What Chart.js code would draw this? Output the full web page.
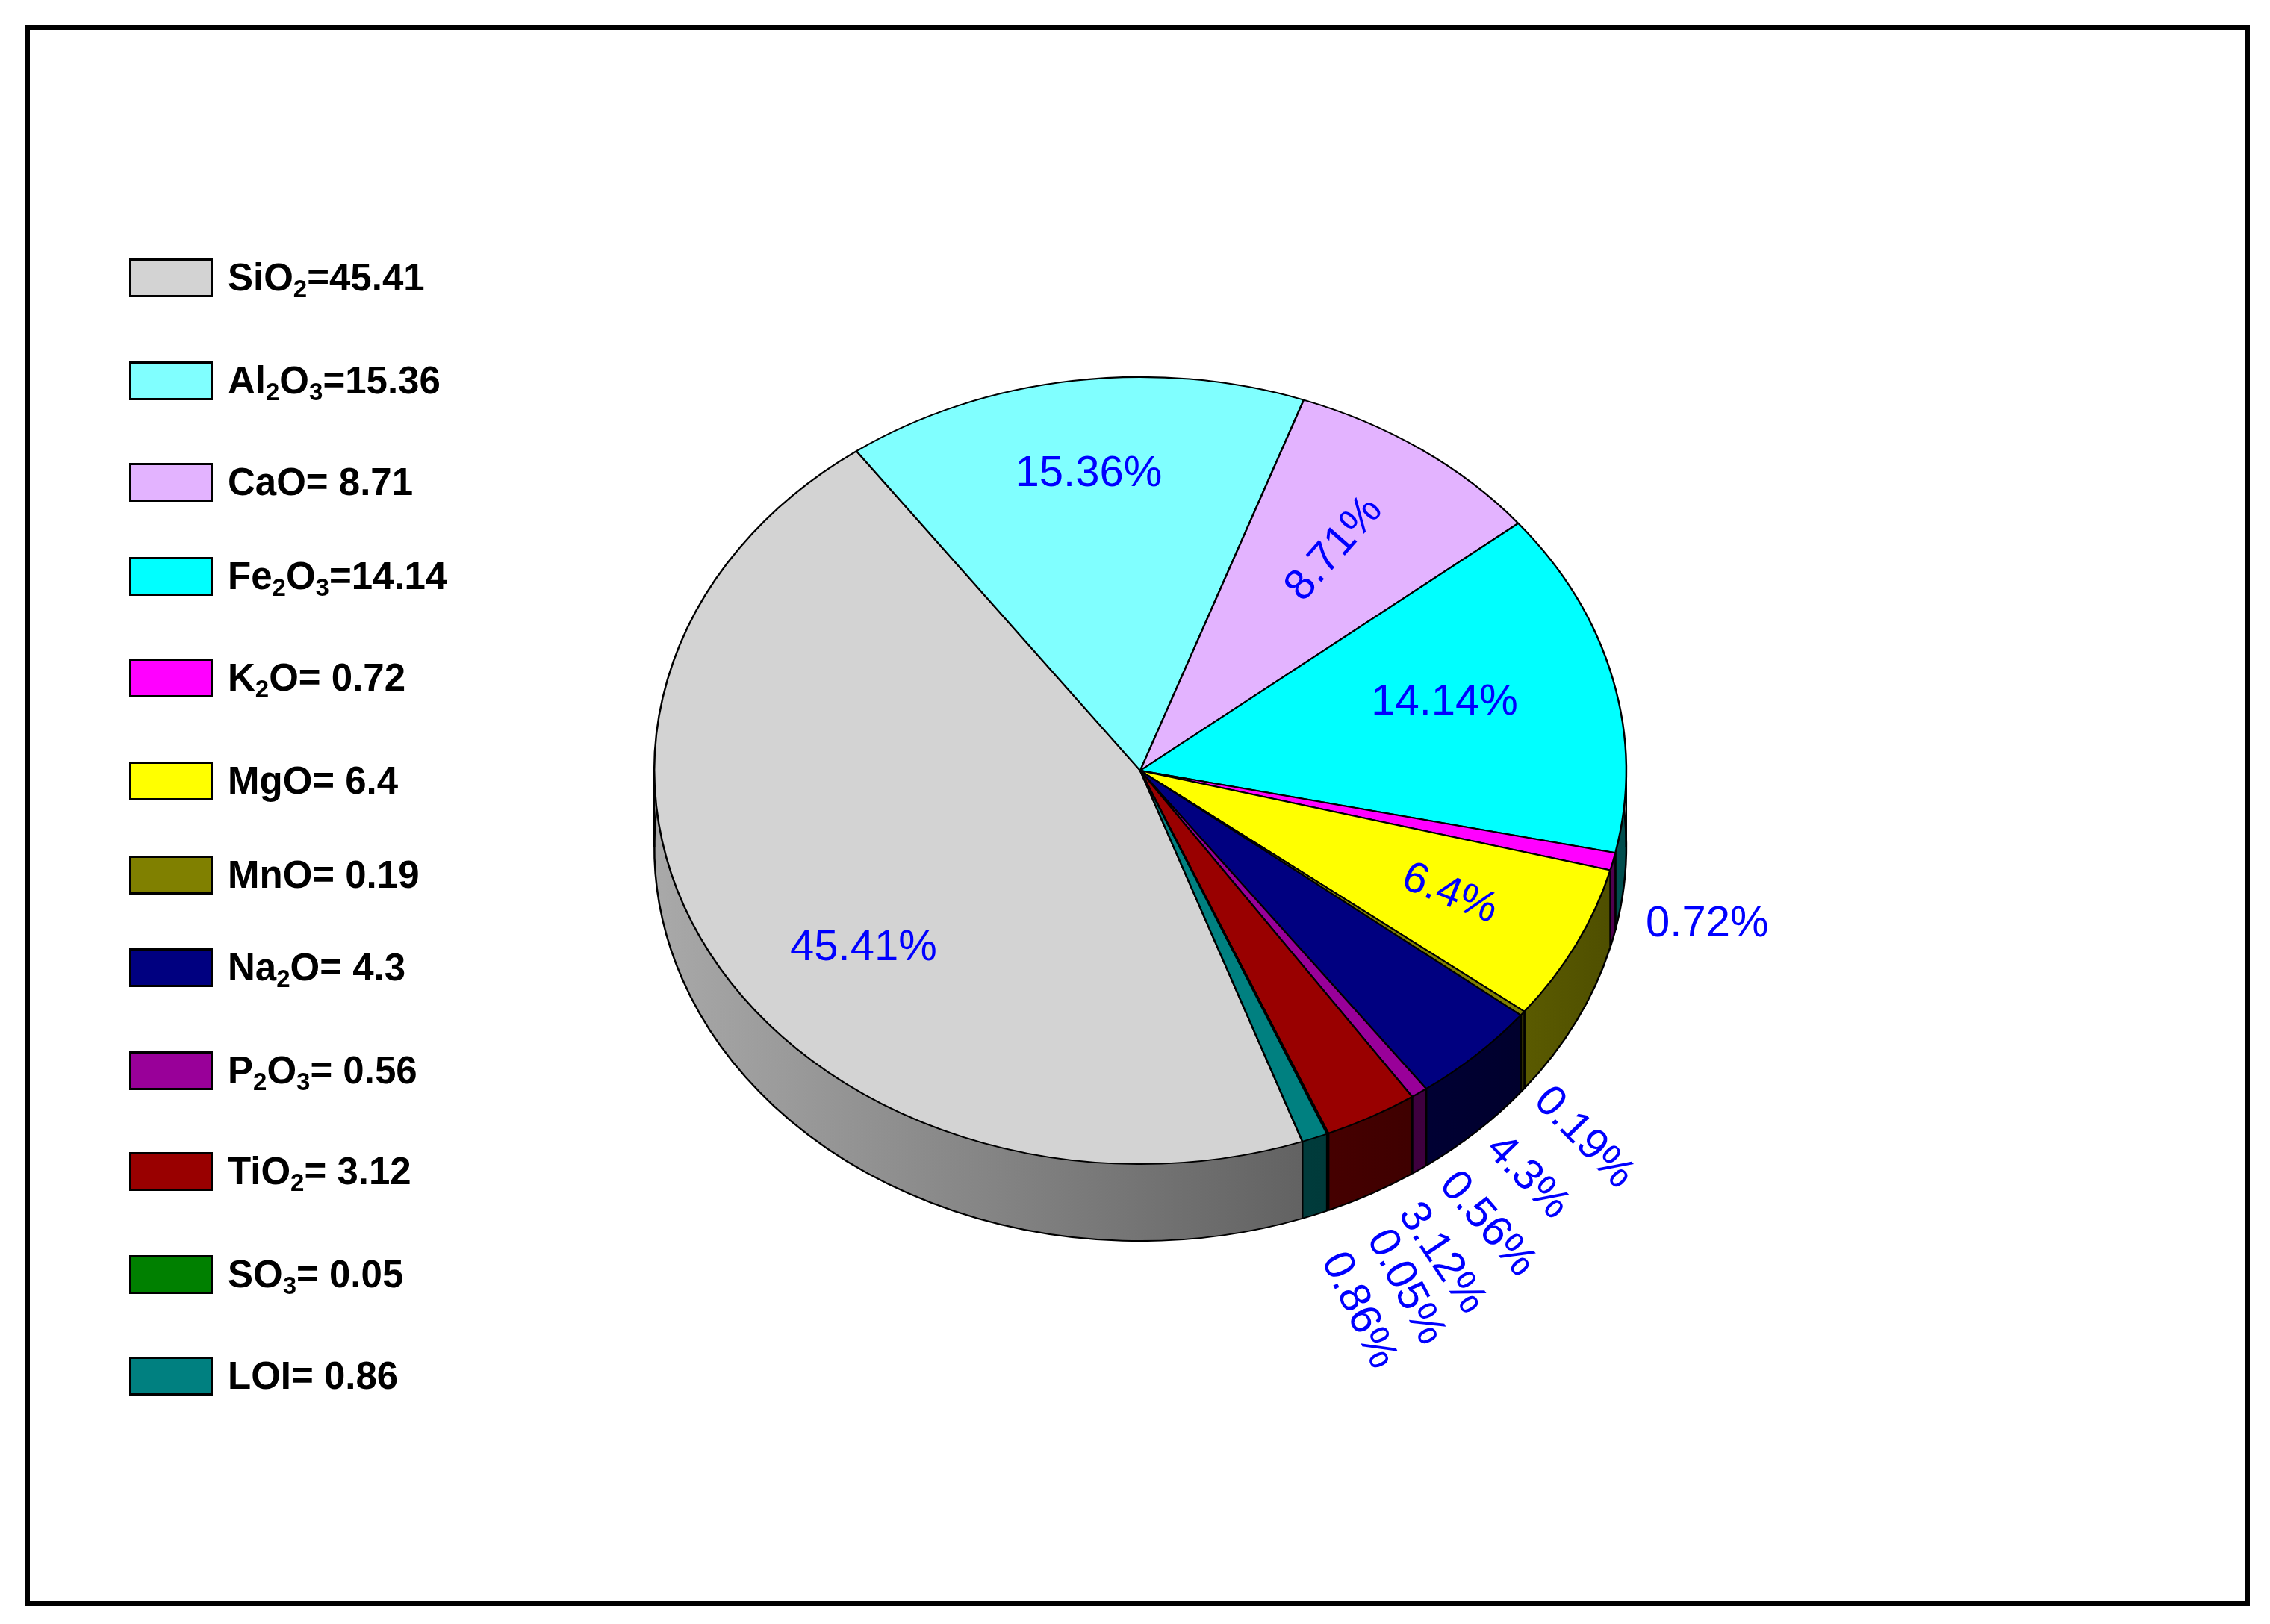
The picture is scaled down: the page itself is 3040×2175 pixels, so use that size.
<!DOCTYPE html>
<html>
<head>
<meta charset="utf-8">
<script src="https://cdn.jsdelivr.net/npm/chart.js@4"></script>
<style>
  body { margin: 0; background: #fff; font-family: "Liberation Sans", Arial, sans-serif; }
  #frame { position: absolute; left: 33px; top: 33px; width: 2966px; height: 2104px; border: 7px solid #000; }
  #wrap { position: absolute; left: 0; top: 0; width: 3040px; height: 2175px; }
  #legend { position: absolute; left: 173px; top: 0; }
  .item { position: absolute; left: 0; white-space: nowrap; font-weight: bold; font-size: 51px; }
  .box { position: absolute; left: 0; width: 112px; height: 52px; border: 3px solid #000; box-sizing: border-box; }
  .txt { position: absolute; left: 132px; top: -4px; line-height: 60px; }
  sub { font-size: 33px; vertical-align: -9px; line-height: 0; }
</style>
</head>
<body>
<div id="frame"></div>
<div id="wrap"><canvas id="pie" width="3040" height="2175"></canvas></div>
<div id="legend"></div>
<script>
// 成分数据
const names = ['SiO<sub>2</sub>', 'Al<sub>2</sub>O<sub>3</sub>', 'CaO', 'Fe<sub>2</sub>O<sub>3</sub>', 'K<sub>2</sub>O', 'MgO', 'MnO', 'Na<sub>2</sub>O', 'P<sub>2</sub>O<sub>3</sub>', 'TiO<sub>2</sub>', 'SO<sub>3</sub>', 'LOI'];
const legendText = ['=45.41', '=15.36', '= 8.71', '=14.14', '= 0.72', '= 6.4', '= 0.19', '= 4.3', '= 0.56', '= 3.12', '= 0.05', '= 0.86'];
const values = [45.41, 15.36, 8.71, 14.14, 0.72, 6.4, 0.19, 4.3, 0.56, 3.12, 0.05, 0.86];
const colors = ['#d3d3d3', '#80ffff', '#e3b3ff', '#00ffff', '#ff00ff', '#ffff00', '#808000', '#000080', '#990099', '#990000', '#008000', '#008080'];
const legendRows = [192, 263, 333, 398, 468, 539, 604, 668, 739, 809, 880, 950];

// 标签样式：半径比例、是否旋转、微调
const labelR = [0.72, 0.76, 0.69, 0.65, 1.23, 0.71, 1.3, 1.28, 1.27, 1.26, 1.26, 1.25];
const labelRot = [false, false, true, false, false, true, true, true, true, true, true, true];
const labelDx = [23, 0, 0, -2, -10, 0, -37, -30, -5, 7, 20, 0];
const labelDy = [32, 0, 0, -6, -19, 0, -12, -18, -17, -12, -7, 8];

const K = 0.81;      // 垂直压缩
const DEPTH = 103;   // 厚度
const S = 1.94;

// 图例
const legend = document.getElementById('legend');
legend.innerHTML = names.map((n, i) => `
  <div class="item" style="top:${legendRows[i] * S - 26}px">
    <div class="box" style="background:${colors[i]}"></div>
    <div class="txt">${n}${legendText[i]}</div>
  </div>`).join('');

function shade(hex, f) {
  const n = parseInt(hex.slice(1), 16);
  const r = Math.round(((n >> 16) & 255) * f), g = Math.round(((n >> 8) & 255) * f), b = Math.round((n & 255) * f);
  return `rgb(${r},${g},${b})`;
}

const tiltPlugin = {
  id: 'tilt',
  beforeDatasetsDraw(chart) {
    const ctx = chart.ctx;
    const arcs = chart.getDatasetMeta(0).data;
    const cx = arcs[0].x, cy = arcs[0].y, r = arcs[0].outerRadius;
    ctx.save();
    ctx.translate(cx, cy);
    ctx.scale(1, K);
    ctx.translate(-cx, -cy);
    const off = DEPTH / K;
    arcs.forEach((a, i) => {
      const grad = ctx.createLinearGradient(cx - r, 0, cx + r, 0);
      grad.addColorStop(0, shade(colors[i], 0.8));
      grad.addColorStop(1, shade(colors[i], 0.3));
      ctx.fillStyle = grad;
      ctx.beginPath();
      ctx.arc(cx, cy, r, a.startAngle, a.endAngle);
      ctx.arc(cx, cy + off, r, a.endAngle, a.startAngle, true);
      ctx.closePath();
      ctx.fill();
      ctx.lineWidth = 2.5;
      ctx.strokeStyle = '#000';
      ctx.beginPath();
      ctx.arc(cx, cy + off, r, a.startAngle, a.endAngle);
      ctx.stroke();
      [a.startAngle, a.endAngle].forEach(t => {
        if (Math.sin(t) > 0) {
          ctx.beginPath();
          ctx.moveTo(cx + r * Math.cos(t), cy + r * Math.sin(t));
          ctx.lineTo(cx + r * Math.cos(t), cy + off + r * Math.sin(t));
          ctx.stroke();
        }
      });
    });
    ctx.beginPath();
    ctx.moveTo(cx - r, cy); ctx.lineTo(cx - r, cy + off);
    ctx.moveTo(cx + r, cy); ctx.lineTo(cx + r, cy + off);
    ctx.stroke();
  },
  afterDatasetsDraw(chart) {
    chart.ctx.restore();
  },
  afterDraw(chart) {
    const ctx = chart.ctx;
    const arcs = chart.getDatasetMeta(0).data;
    ctx.save();
    ctx.fillStyle = '#0000ff';
    ctx.font = '58px "Liberation Sans", Arial, sans-serif';
    ctx.textAlign = 'center';
    ctx.textBaseline = 'middle';
    arcs.forEach((a, i) => {
      const m = (a.startAngle + a.endAngle) / 2;
      const f = labelR[i];
      let x = a.x + a.outerRadius * f * Math.cos(m);
      let y = a.y + a.outerRadius * f * Math.sin(m) * K;
      if (f > 1 && Math.sin(m) > 0) y += DEPTH * 0.9;
      x += labelDx[i] * S;
      y += labelDy[i] * S;
      ctx.save();
      ctx.translate(x, y);
      if (labelRot[i]) {
        let ang = Math.atan2(Math.sin(m) * K, Math.cos(m));
        if (f > 1) ang = Math.max(ang, 0.8);
        ctx.rotate(ang);
      }
      ctx.fillText(values[i] + '%', 0, 0);
      ctx.restore();
    });
    ctx.restore();
  }
};

new Chart(document.getElementById('pie'), {
  type: 'pie',
  data: {
    labels: names,
    datasets: [{
      data: values,
      backgroundColor: colors,
      borderColor: '#000',
      borderWidth: 2.5,
    }]
  },
  options: {
    responsive: false,
    animation: false,
    rotation: 160.5,
    layout: { padding: { left: 875, right: 861, top: 380, bottom: 491 } },
    plugins: { legend: { display: false }, tooltip: { enabled: false } }
  },
  plugins: [tiltPlugin]
});
</script>
</body>
</html>
